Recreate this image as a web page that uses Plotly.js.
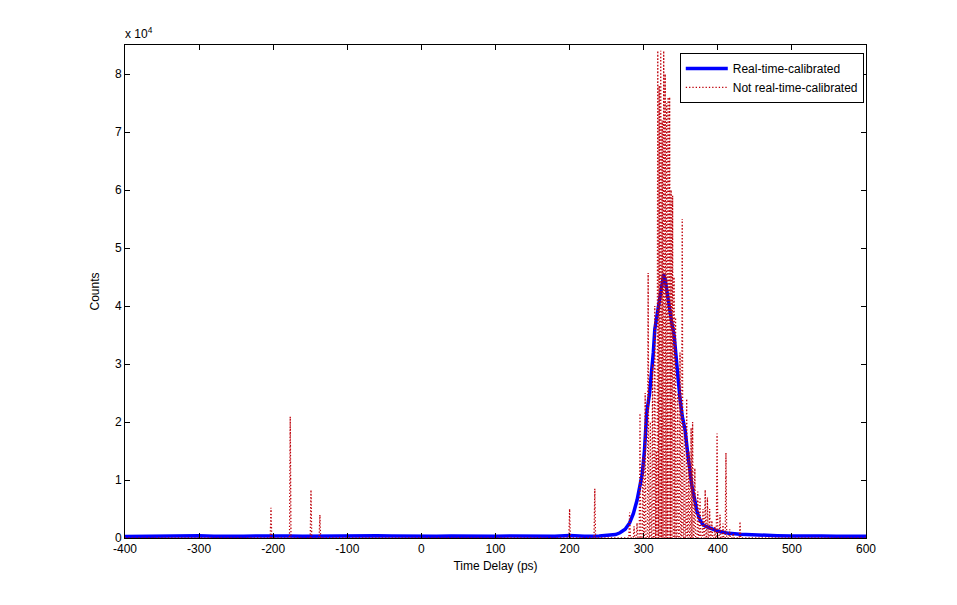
<!DOCTYPE html>
<html>
<head>
<meta charset="utf-8">
<script src="https://cdn.plot.ly/plotly-3.0.1.min.js"></script>
<style>
  body { margin: 0; background: #fff; }
  #myDiv { width: 957px; height: 605px; }
</style>
</head>
<body>
<div id="myDiv"></div>
<script>
// calibrated histogram (blue)
var blueX = [-400, -380, -360, -340, -320, -300, -280, -260, -240, -220, -200, -180, -160, -140, -120, -100, -80, -60, -40, -20,
  0, 20, 40, 60, 80, 100, 120, 140, 160, 180, 200, 210, 220, 240, 255, 262, 268, 275, 281, 286,
  291, 295, 298, 301, 304, 308, 311, 313, 315, 318, 322, 325, 327, 329, 331, 333, 335, 338, 341, 343,
  345, 347, 349, 352, 356, 359, 362, 365, 369, 372, 376, 380, 384, 389, 395, 400, 407, 415, 430, 445,
  460, 480, 500, 520, 540, 560, 580, 600];
var blueY = [250, 300, 350, 300, 350, 400, 300, 250, 300, 350, 400, 350, 300, 350, 300, 400, 350, 400, 350, 300,
  350, 300, 350, 300, 250, 300, 350, 300, 250, 300, 450, 350, 300, 350, 450, 600, 900, 1500, 2600, 4200,
  6500, 9000, 11000, 15000, 21500, 25000, 28500, 32000, 36000, 38500, 41500, 44000, 45500, 44500, 42800, 41000, 39000, 37000, 35000, 32000,
  29500, 27000, 24000, 21000, 18500, 15000, 11700, 9000, 6500, 4500, 3100, 2300, 2000, 1700, 1400, 1200, 1000, 800, 650, 550,
  450, 400, 350, 400, 350, 300, 350, 300];

// uncalibrated histogram (red) - nonzero bins only
var redX = [-203, -177, -149, -137, 200, 234, 281, 287, 291, 295, 299, 302, 306, 309, 312, 315, 317,
  319, 321, 323, 325, 327, 329, 331, 333, 335, 337, 339, 341, 343,
  346, 349, 352, 355, 358, 361, 364, 366, 369,
  373, 376, 380, 383, 386, 389, 392, 396, 399,
  403, 407, 411, 416, 421, 430];
var redY = [5200, 20900, 8300, 4000, 5000, 8500, 4400, 2000, 2600, 21500, 14000, 25000, 45700, 20000, 30000, 40000, 15000,
  84000, 78000, 84000, 72000, 84000, 80000, 75000, 76000, 76000, 60000, 59000, 45000, 38000,
  25000, 32000, 55000, 20000, 24000, 15000, 19000, 20000, 12000,
  8000, 7000, 5000, 8300, 7000, 5000, 3000, 2000, 18000,
  4000, 2500, 14700, 1500, 800, 2800];

var yTicks = [0, 1, 2, 3, 4, 5, 6, 7, 8];
var xTicks = [-400, -300, -200, -100, 0, 100, 200, 300, 400, 500, 600];

// spikes go up from zero and back down
var rx = [-400], ry = [0];
for (var i = 0; i < redX.length; i++) {
  rx.push(redX[i] - 1, redX[i], redX[i] + 1);
  ry.push(0, redY[i], 0);
}
rx.push(600); ry.push(0);

var trace1 = {
  type: "scatter",
  mode: "lines",
  name: "Real-time-calibrated",
  x: blueX,
  y: blueY,
  line: { color: "rgb(0,0,255)", width: 3.5 },
};

var trace2 = {
  type: "scatter",
  mode: "lines",
  name: "Not real-time-calibrated",
  x: rx,
  y: ry,
  line: { color: "rgb(190,0,10)", width: 1.3, dash: "1.3px,2px", simplify: false },
};

var fnt = { family: "Liberation Sans, Arial, sans-serif", size: 12, color: "#000" };

var layout = {
  width: 957,
  height: 605,
  margin: { l: 125, r: 91, t: 45, b: 67 },
  paper_bgcolor: "#fff",
  plot_bgcolor: "#fff",
  font: fnt,
  showlegend: true,
  legend: {
    x: 0.997, y: 0.984, xanchor: "right", yanchor: "top",
    bgcolor: "#fff", bordercolor: "#000", borderwidth: 1,
    font: fnt, tracegroupgap: 0, itemwidth: 42,
  },
  xaxis: {
    range: [-400, 600],
    tickvals: xTicks,
    ticktext: xTicks.map(String),
    ticks: "inside", ticklen: 5, tickcolor: "#000",
    showline: true, linecolor: "#000", linewidth: 1, mirror: "ticks",
    showgrid: false, zeroline: false,
    title: { text: "Time Delay (ps)", font: fnt, standoff: 6 },
  },
  yaxis: {
    range: [0, 85000],
    tickvals: yTicks.map(function (v) { return v * 10000; }),
    ticktext: yTicks.map(String),
    ticks: "inside", ticklen: 5, tickcolor: "#000",
    showline: true, linecolor: "#000", linewidth: 1, mirror: "ticks",
    showgrid: false, zeroline: false,
    title: { text: "Counts", font: fnt, standoff: 12 },
  },
  annotations: [
    {
      xref: "paper", yref: "paper", x: -0.003, y: 1, xanchor: "left", yanchor: "bottom",
      text: "x 10<sup>4</sup>", showarrow: false, font: fnt, yshift: 2,
    },
  ],
};

Plotly.newPlot("myDiv", [trace1, trace2], layout, { displayModeBar: false });
</script>
</body>
</html>
